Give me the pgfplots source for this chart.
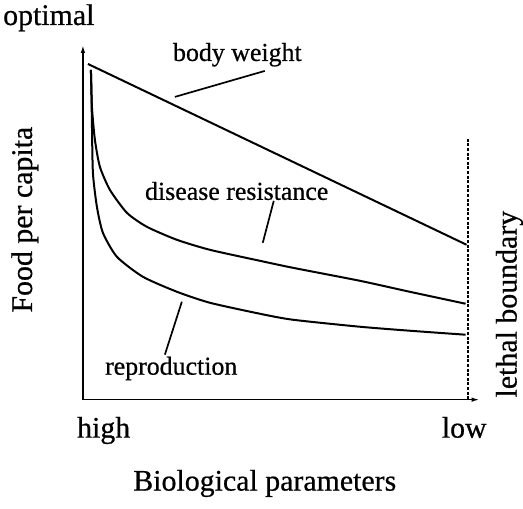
\documentclass[border=0pt]{standalone}
\usepackage{pgfplots}
\pgfplotsset{compat=1.18}
\usepackage{fontspec}
\setmainfont{Liberation Serif}
\newfontfamily\heavy{Liberation Serif}[FakeBold=0.6]
\usetikzlibrary{arrows.meta}
\begin{document}
\begin{tikzpicture}
\begin{axis}[
  x=1bp, y=1bp,
  xmin=83, xmax=480, ymin=109, ymax=464,
  axis lines=left,
  axis line style={line width=1.5bp, -{Latex[length=8bp,width=4.5bp]}},
  xtick=\empty, ytick=\empty,
  clip=false,
  xlabel={Biological parameters},
  ylabel={Food per capita},
  xlabel style={at={(axis cs:265,18)}, anchor=base, font=\heavy\fontsize{30}{36}\selectfont, inner sep=0pt},
  ylabel style={at={(axis cs:32,196)}, anchor=base west, rotate=0, font=\heavy\fontsize{30}{36}\selectfont, inner sep=0pt},
]
% body weight
\addplot[black, line width=2bp] coordinates {(88,445) (467,264)};
% disease resistance
\addplot[black, line width=2bp, smooth, tension=0.4] coordinates {
(91,439) (92,402) (95,369) (100,342) (110,319) (127,296) (147,282) (177,269)
(210,259) (260,248) (293,241) (360,228) (410,217) (466,205)};
% reproduction
\addplot[black, line width=2bp, smooth, tension=0.4] coordinates {
(91,439) (91.5,419) (92,386) (93,336) (97,302) (103,276) (117,252) (143,232)
(177,217) (210,206) (260,195) (293,189) (360,182) (410,178) (466,174)};
% lethal boundary
\addplot[black, line width=2.2bp, dash pattern=on 3bp off 1.6bp] coordinates {(468,370) (468,109)};
% pointer lines
\addplot[black, line width=1.7bp] coordinates {(175,412) (265,438)};
\addplot[black, line width=1.7bp] coordinates {(274,308) (263,266)};
\addplot[black, line width=1.7bp] coordinates {(182,207) (165,154)};
% labels
\node[anchor=base west, inner sep=0pt, font=\heavy\fontsize{26}{30}\selectfont] at (axis cs:173,448) {body weight};
\node[anchor=base west, inner sep=0pt, font=\heavy\fontsize{26}{30}\selectfont] at (axis cs:145,309) {disease resistance};
\node[anchor=base west, inner sep=0pt, font=\heavy\fontsize{26}{30}\selectfont] at (axis cs:105,134) {reproduction};
\node[anchor=base west, inner sep=0pt, font=\heavy\fontsize{30}{36}\selectfont] at (axis cs:3,484) {optimal};
\node[anchor=base west, inner sep=0pt, font=\heavy\fontsize{30}{36}\selectfont] at (axis cs:77,71) {high};
\node[anchor=base west, inner sep=0pt, font=\heavy\fontsize{30}{36}\selectfont] at (axis cs:442,71) {low};
\node[anchor=base west, inner sep=0pt, rotate=90, font=\heavy\fontsize{30}{36}\selectfont] at (axis cs:517,111) {lethal boundary};
\path (axis cs:0,0) rectangle (axis cs:523,509);
\end{axis}
\end{tikzpicture}
\end{document}
